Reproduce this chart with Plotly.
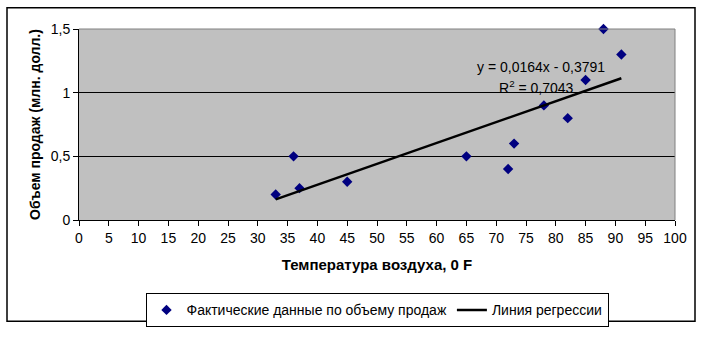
import plotly.graph_objects as go

# Observed air temperature (°F) and sales volume (million $)
temperature = [33, 36, 37, 45, 65, 72, 73, 78, 82, 85, 88, 91]
sales = [0.2, 0.5, 0.25, 0.3, 0.5, 0.4, 0.6, 0.9, 0.8, 1.1, 1.5, 1.3]

# Linear trend parameters
slope = 0.0164
intercept = -0.3791
r_squared = 0.7043

x_ticks = list(range(0, 101, 5))
y_ticks = [0, 0.5, 1, 1.5]
y_tick_text = ["0", "0,5", "1", "1,5"]

line_x = [min(temperature), max(temperature)]
line_y = [slope * x + intercept for x in line_x]

FONT = "Liberation Sans, Arial, sans-serif"

fig = go.Figure()
fig.add_trace(go.Scatter(
    x=temperature, y=sales, mode="markers",
    name="Фактические данные по объему продаж",
    marker=dict(symbol="diamond", size=8, color="#000080"),
    cliponaxis=False,
))
fig.add_trace(go.Scatter(
    x=line_x, y=line_y, mode="lines",
    name="Линия регрессии",
    line=dict(color="black", width=2.5),
))

L, R, T, B = 79, 27, 29, 112
W, H = 702, 339
pw, ph = W - L - R, H - T - B

def px_x(p):
    return (p - L) / pw

def px_y(p):
    return (H - B - p) / ph

fig.update_layout(
    width=W, height=H,
    margin=dict(l=L, r=R, t=T, b=B),
    paper_bgcolor="white",
    plot_bgcolor="#C0C0C0",
    font=dict(family=FONT, size=14, color="black"),
    showlegend=True,
    legend=dict(
        orientation="h", x=0.5, xanchor="center",
        y=px_y(303), yanchor="top",
        bordercolor="black", borderwidth=1,
        bgcolor="white",
        font=dict(family=FONT, size=14, color="black"),
        itemwidth=30,
    ),
    xaxis=dict(
        range=[0, 100], tickvals=x_ticks,
        showgrid=False, zeroline=False,
        showline=True, linecolor="black", linewidth=1,
        ticks="outside", ticklen=5, tickcolor="black",
        tickfont=dict(family=FONT, size=14),
        title=dict(text="<b>Температура воздуха, 0 F</b>",
                   font=dict(family=FONT, size=15), standoff=14),
    ),
    yaxis=dict(
        range=[0, 1.5], tickvals=y_ticks, ticktext=y_tick_text,
        showgrid=True, gridcolor="black", gridwidth=1,
        zeroline=False,
        showline=True, linecolor="black", linewidth=1,
        ticks="outside", ticklen=5, tickcolor="black",
        tickfont=dict(family=FONT, size=14),
        title=dict(text="<b>Объем продаж (млн. долл.)</b>",
                   font=dict(family=FONT, size=14), standoff=6),
    ),
    annotations=[
        dict(x=77.5, y=1.2, xref="x", yref="y",
             text="y = 0,0164x - 0,3791", showarrow=False,
             font=dict(family=FONT, size=14)),
        dict(x=76.8, y=1.045, xref="x", yref="y",
             text="R<sup>2</sup> = " + f"{r_squared:.4f}".replace(".", ","),
             showarrow=False, font=dict(family=FONT, size=14)),
    ],
    shapes=[
        # plot-area frame on top and right
        dict(type="line", xref="paper", yref="paper", x0=0, x1=1, y0=1, y1=1,
             line=dict(color="#808080", width=1), layer="above"),
        dict(type="line", xref="paper", yref="paper", x0=1, x1=1, y0=0, y1=1,
             line=dict(color="#808080", width=1), layer="above"),
        # outer chart border
        dict(type="rect", xref="paper", yref="paper",
             x0=px_x(7), x1=px_x(695), y0=px_y(332), y1=px_y(7),
             line=dict(color="black", width=1.5), layer="below"),
    ],
)

fig.write_html("out.html")
